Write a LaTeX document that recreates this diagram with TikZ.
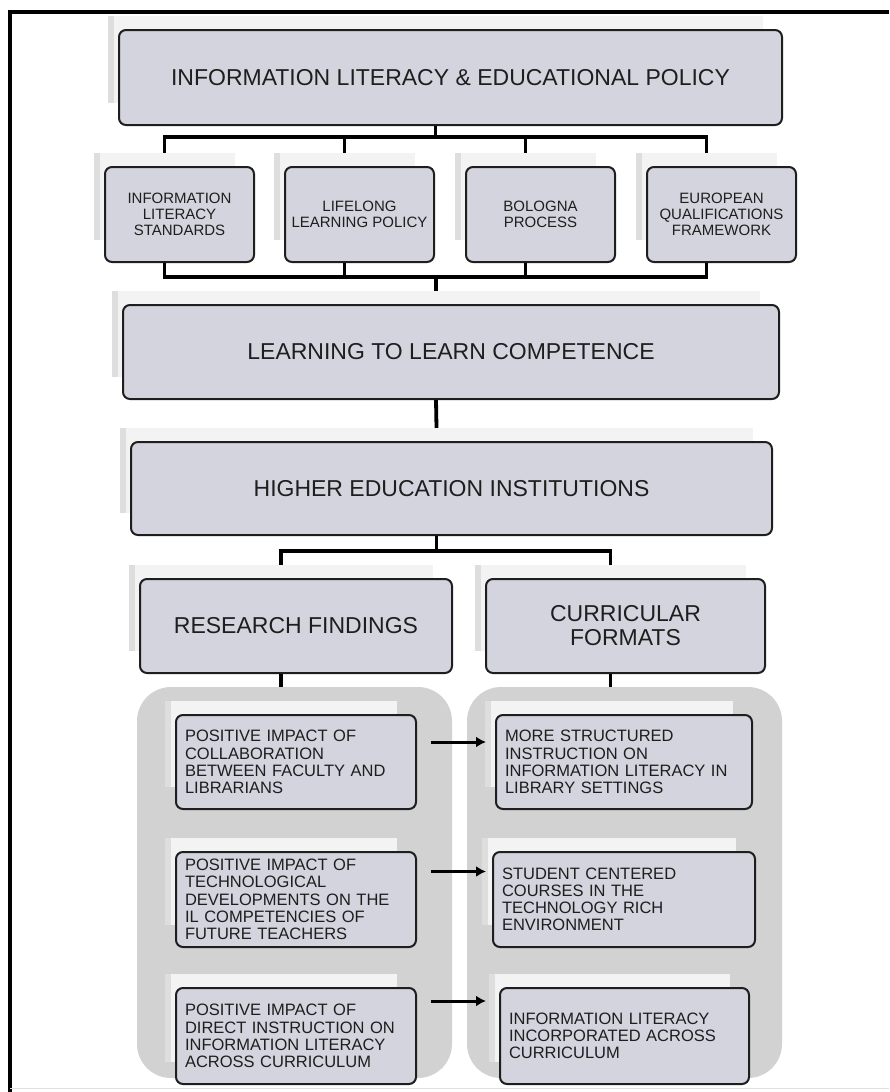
\documentclass[tikz,border=0pt]{standalone}
\usepackage{fontspec}
\setmainfont{Liberation Sans}
\usetikzlibrary{arrows.meta}
\definecolor{boxfill}{RGB}{212,212,222}
\definecolor{panelgray}{RGB}{210,210,210}
\definecolor{ghostgray}{RGB}{243,243,243}
\definecolor{inkgray}{RGB}{30,30,30}
\tikzset{
	ghost/.style={fill=ghostgray, inner sep=0,
		path picture={\fill[black!13] (path picture bounding box.south west) rectangle ([xshift=6pt]path picture bounding box.north west);}},
	box/.style={draw=inkgray, line width=2pt, rounded corners=7pt, fill=boxfill, inner sep=0, text=inkgray, align=center},
	big/.style={box, font=\fontsize{23}{24}\selectfont},
	mid/.style={box, font=\fontsize{15}{16}\selectfont},
	small/.style={box, font=\fontsize{16.5}{17.2}\selectfont, align=left, inner xsep=9pt},
	panel/.style={fill=panelgray, rounded corners=34pt, inner sep=0},
	link/.style={line width=3.8pt},
	flow/.style={line width=3pt, -{Latex[length=10pt,width=11pt]}}
}
% box with its pale slab behind: name, style, x, y, width, height, text
\newcommand{\slab}[7]{%
	\node[ghost, minimum width=#5pt-8pt, minimum height=#6pt-8pt] (#1s) at (#3-15,#4-18) {};
	\node[#2, minimum width=#5pt, minimum height=#6pt] (#1) at (#3,#4) {#7};}
\begin{document}
\begin{tikzpicture}[x=1pt, y=-1pt]
	\useasboundingbox (0,0) rectangle (889,1092);
	\draw[line width=3.5pt] (10,1092) -- (10,12) -- (889,12);
	\draw[black!12, line width=1pt] (10,1088) -- (889,1088);
	\coordinate (bar1) at (0,137);
	\coordinate (bar2) at (0,277);
	\coordinate (bar3) at (0,551);
	% policy level
	\slab{top}{big}{450.5}{77.5}{663}{95}{INFORMATION LITERACY \& EDUCATIONAL POLICY}
	\slab{a1}{mid}{179.5}{214.5}{149}{95}{INFORMATION\\LITERACY\\STANDARDS}
	\slab{a2}{mid}{359.5}{214.5}{149}{95}{LIFELONG\\LEARNING POLICY}
	\slab{a3}{mid}{540.5}{214.5}{149}{95}{BOLOGNA\\PROCESS}
	\slab{a4}{mid}{721.5}{214.5}{149}{95}{EUROPEAN\\QUALIFICATIONS\\FRAMEWORK}
	\slab{llc}{big}{451}{352}{656}{94}{LEARNING TO LEARN COMPETENCE}
	\slab{hei}{big}{451.5}{488.5}{641}{93}{HIGHER EDUCATION INSTITUTIONS}
	\slab{rf}{big}{296}{626}{312}{94}{RESEARCH FINDINGS}
	\slab{cf}{big}{625.5}{626}{279}{94}{CURRICULAR\\FORMATS}
	% findings and formats
	\node[panel, minimum width=315pt, minimum height=391pt] (lpan) at (294.5,882.5) {};
	\node[panel, minimum width=315pt, minimum height=391pt] (rpan) at (624.5,882.5) {};
	\slab{l1}{small, text width=222pt}{296}{762}{240}{94}{POSITIVE IMPACT OF\\COLLABORATION\\BETWEEN FACULTY AND\\LIBRARIANS}
	\slab{l2}{small, text width=222pt}{296}{899.5}{240}{95}{POSITIVE IMPACT OF\\TECHNOLOGICAL\\DEVELOPMENTS ON THE\\IL COMPETENCIES OF\\FUTURE TEACHERS}
	\slab{l3}{small, text width=222pt}{296}{1036}{240}{96}{POSITIVE IMPACT OF\\DIRECT INSTRUCTION ON\\INFORMATION LITERACY\\ACROSS CURRICULUM}
	\slab{r1}{small, text width=238pt}{624}{762}{256}{94}{MORE STRUCTURED\\INSTRUCTION ON\\INFORMATION LITERACY IN\\LIBRARY SETTINGS}
	\slab{r2}{small, text width=244pt}{624}{899.5}{262}{95}{STUDENT CENTERED\\COURSES IN THE\\TECHNOLOGY RICH\\ENVIRONMENT}
	\slab{r3}{small, text width=231pt}{624.5}{1036}{249}{96}{INFORMATION LITERACY\\INCORPORATED ACROSS\\CURRICULUM}
	% connectors
	\draw[link] (top.south -| tops) -- (bar1 -| tops);
	\draw[link] (a1s.north) |- (bar1 -| a4s) -- (a4s.north);
	\draw[link] (a2s.north) -- (bar1 -| a2s) (a3s.north) -- (bar1 -| a3s);
	\draw[link] (a1.south -| a1s) |- (bar2 -| a4s) -- (a4.south -| a4s);
	\draw[link] (a2.south -| a2s) -- (bar2 -| a2s) (a3.south -| a3s) -- (bar2 -| a3s);
	\draw[link] (bar2 -| llcs) -- (llcs.north);
	\draw[link] (llc.south -| llcs) -- (heis.north);
	\draw[link] (hei.south -| heis) -- (bar3 -| heis);
	\draw[link] (rfs.north) |- (bar3 -| cfs) -- (cfs.north);
	\draw[link] (rf.south -| rfs) -- (lpan.north -| rfs) (cf.south -| cfs) -- (rpan.north -| cfs);
	\draw[flow] ([xshift=14pt,yshift=20pt]l1.east) -- ([xshift=-9pt,yshift=20pt]r1.west);
	\draw[flow] ([xshift=14pt,yshift=28pt]l2.east) -- ([xshift=-6pt,yshift=28pt]r2.west);
	\draw[flow] ([xshift=14pt,yshift=35pt]l3.east) -- ([xshift=-13pt,yshift=35pt]r3.west);
\end{tikzpicture}
\end{document}
